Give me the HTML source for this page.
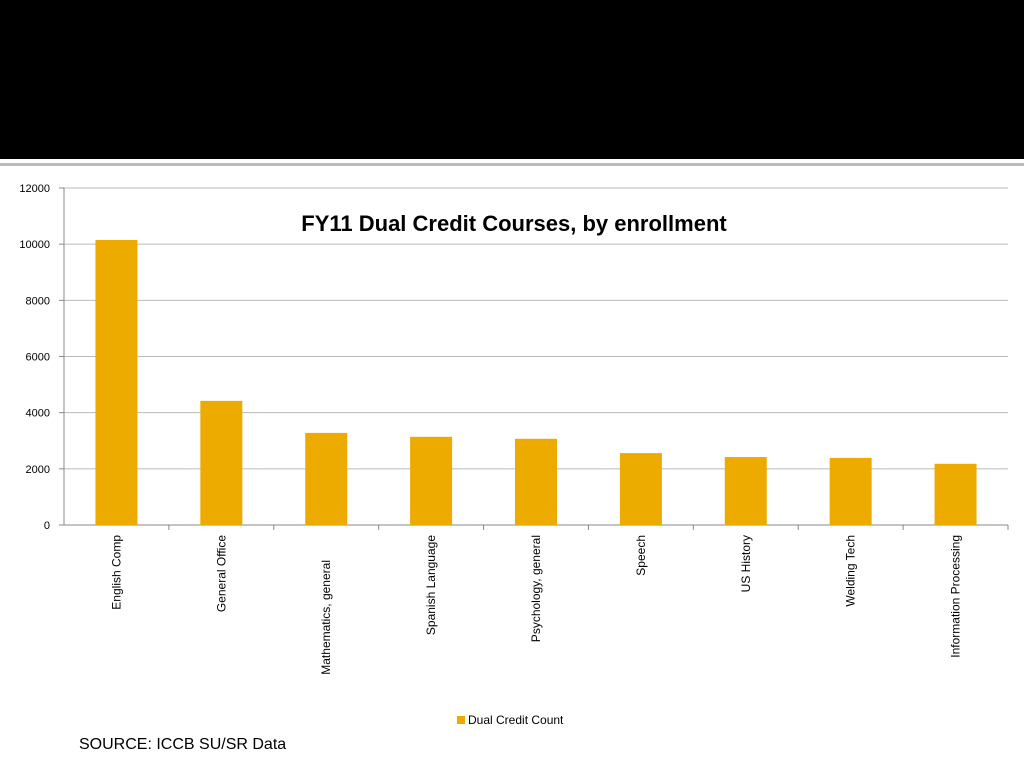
<!DOCTYPE html>
<html><head><meta charset="utf-8"><style>
body{margin:0;width:1024px;height:768px;background:#fff;overflow:hidden;font-family:"Liberation Sans",sans-serif}
</style></head><body>
<div style="position:absolute;left:0;top:0;width:1024px;height:159px;background:#000"></div>
<div style="position:absolute;left:0;top:163px;width:1024px;height:3px;background:#bbb"></div>
<svg id="chart" width="1024" height="768" style="position:absolute;left:0;top:0" xmlns="http://www.w3.org/2000/svg">
<text x="514" y="231" text-anchor="middle" font-size="22" font-weight="bold" fill="#000">FY11 Dual Credit Courses, by enrollment</text>
<rect x="457" y="716" width="8" height="8" fill="#EDAB00"/>
<text x="468" y="724" font-size="12" fill="#000">Dual Credit Count</text>
<text x="79" y="749" font-size="16" fill="#000">SOURCE: ICCB SU/SR Data</text>
</svg>
<script>
const categories=["English Comp","General Office","Mathematics, general","Spanish Language","Psychology, general","Speech","US History","Welding Tech","Information Processing"];
const values=[10150,4420,3280,3140,3070,2560,2420,2390,2180];
const ticks=[0,2000,4000,6000,8000,10000,12000];
const svg=document.getElementById('chart');
const NS='http://www.w3.org/2000/svg';
const X0=64,X1=1008,Y0=525,Y1=188,MAX=12000;
const y=v=>Y0-(v/MAX)*(Y0-Y1);
const bw=(X1-X0)/categories.length;
const x=i=>X0+i*bw;
function mk(t,a){const e=document.createElementNS(NS,t);for(const k in a)e.setAttribute(k,a[k]);svg.appendChild(e);return e;}
ticks.forEach(t=>{
  const g=mk('line',{x1:X0,x2:X1,y1:y(t),y2:y(t),stroke:t===0?'#888':'#bbb','stroke-width':1});
  
  
  const tk=mk('line',{x1:X0-5,x2:X0,y1:y(t),y2:y(t),stroke:'#888'});
  
  
  const l=mk('text',{x:50,y:y(t)+4,'text-anchor':'end','font-size':11,fill:'#000'});
  l.textContent=t;
  
  
});
const ax=mk('line',{x1:X0,x2:X0,y1:Y1,y2:Y0,stroke:'#888'});


categories.forEach((c,i)=>{
  const tk=mk('line',{x1:x(i+1),x2:x(i+1),y1:Y0,y2:Y0+5,stroke:'#888'});
  
  
  const cx=x(i)+bw/2;
  const b=mk('rect',{x:cx-21,y:y(values[i]),width:42,height:Y0-y(values[i]),fill:'#EDAB00'});
  
  
  const top=(i===2)?560:535;
  const t=mk('text',{x:0,y:0,'text-anchor':'end','font-size':12,fill:'#000',transform:`translate(${cx+4},${top}) rotate(-90)`});
  t.textContent=c;
  
  
});
</script>
</body></html>
